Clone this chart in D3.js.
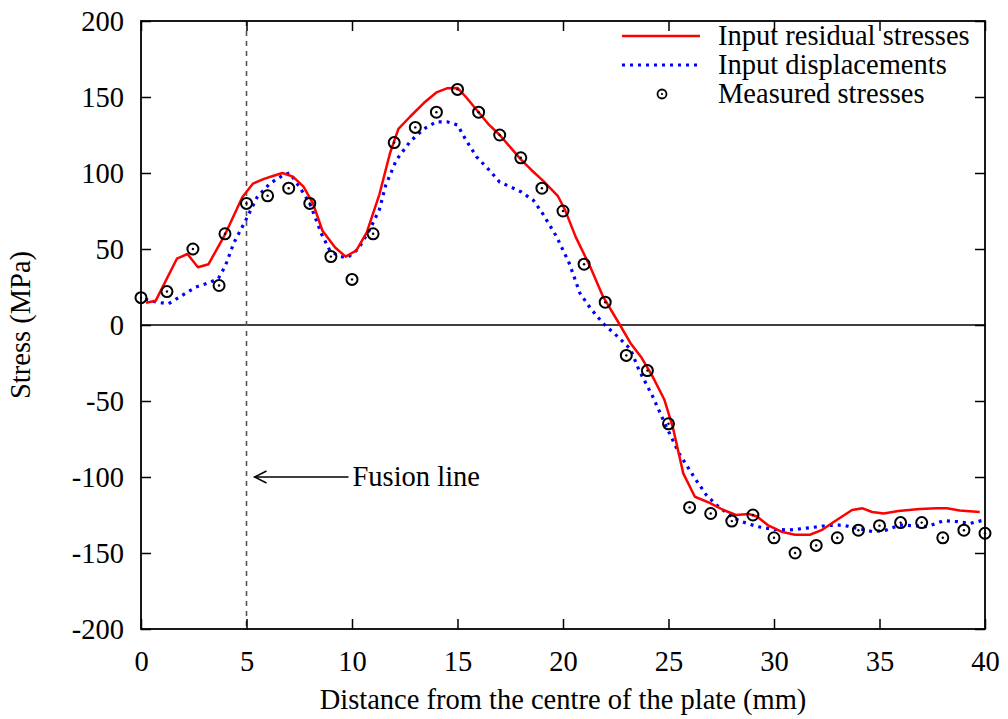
<!DOCTYPE html>
<html><head><meta charset="utf-8">
<script src="https://cdn.jsdelivr.net/npm/d3@7"></script>
<style>
html,body{margin:0;padding:0;background:#fff;}
svg text{font-family:"Liberation Serif","Times New Roman",serif;fill:#000;}
</style></head>
<body><svg id="chart" width="1008" height="719"></svg>
<script>
const xTicks = [0,5,10,15,20,25,30,35,40];
const yTicks = [-200,-150,-100,-50,0,50,100,150,200];
const seriesNames = ["Input residual stresses","Input displacements","Measured stresses"];

const residualX = [0.24,0.7,1.7,2.2,2.7,3.2,4.0,4.8,5.3,5.8,6.25,6.7,7.2,7.7,8.15,8.6,9.2,9.7,10.2,10.7,11.3,11.8,12.2,12.75,13.4,14.0,14.5,15.0,15.4,16,16.5,17,17.5,18,18.5,19.05,19.75,20.1,20.6,21.3,21.9,22.7,23.2,23.7,24.25,24.8,25.2,25.7,26.25,26.95,27.6,28.2,28.8,29.2,29.7,30.35,31,31.7,32.25,32.9,33.7,34.2,34.65,35.2,35.9,36.9,37.7,38.2,38.8,39.75];
const residualY = [14.7,16,43.6,46.7,38,40,60,84,93,96,98,100,97.6,91,80,62,51,45,49,61,86,113,129,137,146,153,155.7,156,150,140,131.6,125,117,109,102,95,85,75.6,58,38,18.6,0,-12,-21,-34,-49,-67,-97.6,-113,-117,-121.7,-125,-124.3,-126,-131.6,-136,-138,-138,-135,-129,-121.7,-120.6,-123,-124,-122.4,-121,-120.6,-120.6,-122,-123];

const dispX = [0.2,0.74,1.3,1.85,2.6,3.27,3.67,4.0,4.4,4.93,5.5,6.1,6.75,7.05,7.5,8.0,8.55,8.95,9.4,9.8,10.3,10.85,11.3,11.6,12.1,12.75,13.4,14.0,14.5,15.0,15.4,15.9,16.5,17.0,17.5,18.0,18.6,19.05,19.7,20.3,20.8,21.3,21.9,22.6,23.2,23.6,24.25,24.9,25.5,26.2,26.8,27.4,28.1,28.4,29.2,29.95,30.7,31.5,32.5,33.25,33.9,34.7,35.3,35.96,36.6,37.25,38.05,38.7,39.3,39.95];
const dispY = [17,15,14,18.6,25,28,30.7,39,54,68,84,93,98.7,100,91,80,60,49,45,44.5,50,63,76,92,108.5,120.6,129,133.7,133.7,131.6,121.7,110.7,102,94,91,87.7,82,73,58,40.5,21,11,1,-7.7,-16,-29.6,-47,-67,-84.4,-99.8,-112,-120,-127,-129,-132.6,-134.4,-134.9,-133.7,-132,-131.6,-133.7,-136,-135,-131.6,-132,-132.6,-128.7,-129.4,-130.5,-128.3];

const measuredX = [0,1.23,2.46,3.7,3.98,5,6,7,8,9,10,11,12,13,14,15,16,17,18,19,20,21,22,23,24,25,26,27,28,29,30,31,32,33,34,35,36,37,38,39,40];
const measuredY = [18,22,50,26,60,80,85,90,80,45,30,60,120,130,140,155,140,125,110,90,75,40,15,-20,-30,-65,-120,-124,-129,-125,-140,-150,-145,-140,-135,-132,-130,-130,-140,-135,-137];

const fusionX = 5;
const fusionLabel = "Fusion line";
const fusionY = -100;

const svg = d3.select("#chart");
const L = 141, R = 985, T = 21, B = 629;
const x = d3.scaleLinear().domain([0,40]).range([L,R]);
const y = d3.scaleLinear().domain([-200,200]).range([B,T]);
const fs = 28.5;
const fmt = d => String(d);

// zero line
svg.append("line").attr("x1",L).attr("x2",R).attr("y1",y(0)).attr("y2",y(0))
  .attr("stroke","#000").attr("stroke-width",1.5);

// fusion dashed line
svg.append("line").attr("x1",x(fusionX)).attr("x2",x(fusionX)).attr("y1",T).attr("y2",B)
  .attr("stroke","#555").attr("stroke-width",1.6).attr("stroke-dasharray","5,5");

// arrow + label
const ay = y(fusionY);
svg.append("line").attr("x1",x(fusionX)+102).attr("x2",x(fusionX)+8).attr("y1",ay).attr("y2",ay)
  .attr("stroke","#000").attr("stroke-width",1.5);
svg.append("path").attr("d",`M${x(fusionX)+20},${ay-6} L${x(fusionX)+8},${ay} L${x(fusionX)+20},${ay+6}`)
  .attr("fill","none").attr("stroke","#000").attr("stroke-width",1.5);
svg.append("text").attr("x",x(fusionX)+106).attr("y",ay+9).attr("font-size",fs).text(fusionLabel);

// axes (inward ticks)
const axB = d3.axisBottom(x).tickValues(xTicks).tickSize(-10).tickPadding(22).tickFormat(fmt);
const axT = d3.axisTop(x).tickValues(xTicks).tickSize(-10).tickFormat("");
const axL = d3.axisLeft(y).tickValues(yTicks).tickSize(-10).tickPadding(17).tickFormat(fmt);
const axR = d3.axisRight(y).tickValues(yTicks).tickSize(-10).tickFormat("");
function style(g){ g.select(".domain").remove(); g.selectAll("line").attr("stroke","#000").attr("stroke-width",1.5);
  g.selectAll("text").attr("font-size",fs).attr("font-family","Liberation Serif, serif").attr("fill","#000"); }
svg.append("g").attr("transform",`translate(0,${B})`).call(axB).call(style);
svg.append("g").attr("transform",`translate(0,${T})`).call(axT).call(style);
svg.append("g").attr("transform",`translate(${L},0)`).call(axL).call(style);
svg.append("g").attr("transform",`translate(${R},0)`).call(axR).call(style);

// lines
const line = d3.line().x(d=>x(d[0])).y(d=>y(d[1]));
const resData = residualX.map((v,i)=>[v,residualY[i]]);
const dispData = dispX.map((v,i)=>[v,dispY[i]]);
svg.append("path").datum(dispData).attr("d",line).attr("fill","none")
  .attr("stroke","#0000ff").attr("stroke-width",3.2).attr("stroke-dasharray","3,5");
svg.append("path").datum(resData).attr("d",line).attr("fill","none")
  .attr("stroke","#ff0000").attr("stroke-width",2.5).attr("stroke-linejoin","round");

// measured markers
const mg = svg.append("g");
const md = measuredX.map((v,i)=>[v,measuredY[i]]);
mg.selectAll("circle.o").data(md).join("circle").attr("class","o")
  .attr("cx",d=>x(d[0])).attr("cy",d=>y(d[1])).attr("r",5.5)
  .attr("fill","none").attr("stroke","#000").attr("stroke-width",2);
mg.selectAll("circle.c").data(md).join("circle").attr("class","c")
  .attr("cx",d=>x(d[0])).attr("cy",d=>y(d[1])).attr("r",1.2).attr("fill","#000");

// frame
svg.append("rect").attr("x",L).attr("y",T).attr("width",R-L).attr("height",B-T)
  .attr("fill","none").attr("stroke","#000").attr("stroke-width",1.8);

// legend
const lg = svg.append("g");
const ly = [36,65,94];
lg.append("line").attr("x1",622).attr("x2",700).attr("y1",ly[0]).attr("y2",ly[0])
  .attr("stroke","#ff0000").attr("stroke-width",2.5);
lg.append("line").attr("x1",622).attr("x2",700).attr("y1",ly[1]).attr("y2",ly[1])
  .attr("stroke","#0000ff").attr("stroke-width",3.2).attr("stroke-dasharray","3,5");
lg.append("circle").attr("cx",662).attr("cy",ly[2]).attr("r",4.5).attr("fill","none").attr("stroke","#000").attr("stroke-width",1.8);
lg.append("circle").attr("cx",662).attr("cy",ly[2]).attr("r",1.1).attr("fill","#000");
seriesNames.forEach((n,i)=>{
  lg.append("text").attr("x",718).attr("y",ly[i]+9).attr("font-size",fs).text(n);
});

// axis titles
svg.append("text").attr("x",563).attr("y",709).attr("text-anchor","middle").attr("font-size",fs)
  .text("Distance from the centre of the plate (mm)");
svg.append("text").attr("transform",`translate(30,${y(0)}) rotate(-90)`).attr("text-anchor","middle").attr("font-size",fs)
  .text("Stress (MPa)");
</script></body></html>
